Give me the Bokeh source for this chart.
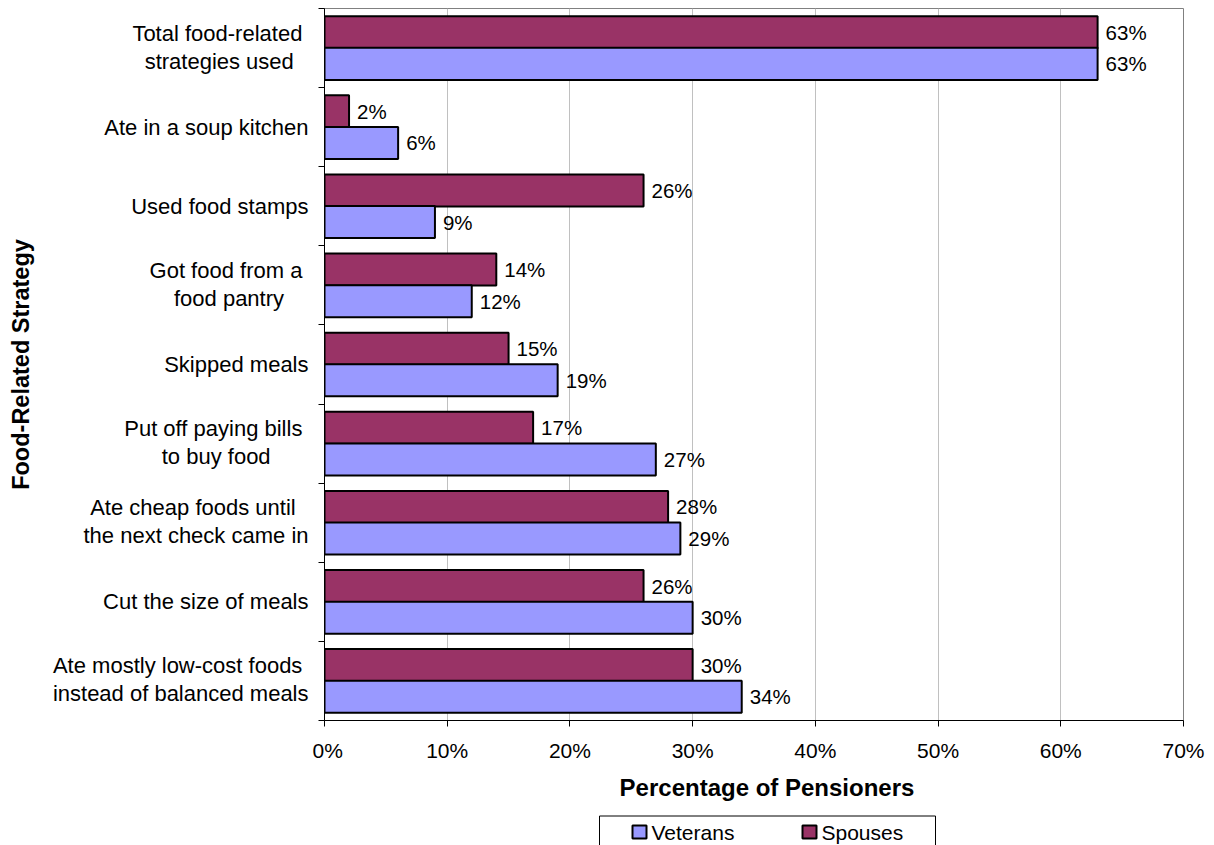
import math
from bokeh.plotting import figure
from bokeh.models import ColumnDataSource, FixedTicker, Range1d
from bokeh.layouts import column, row
from bokeh.core.properties import value
from bokeh.embed import file_html
from bokeh.resources import INLINE

categories = [
    "Total food-related\nstrategies used",
    "Ate in a soup kitchen",
    "Used food stamps",
    "Got food from a\nfood pantry",
    "Skipped meals",
    "Put off paying bills\nto buy food",
    "Ate cheap foods until\nthe next check came in",
    "Cut the size of meals",
    "Ate mostly low-cost foods\ninstead of balanced meals",
]
spouses = [63, 2, 26, 14, 15, 17, 28, 26, 30]
veterans = [63, 6, 9, 12, 19, 27, 29, 30, 34]
x_ticks = [0, 10, 20, 30, 40, 50, 60, 70]
series_names = ["Veterans", "Spouses"]
series_colors = ["#9999FF", "#993366"]
x_title = "Percentage of Pensioners"
y_title = "Food-Related Strategy"

FONT = "Liberation Sans"
n = len(categories)
centers = [n - i - 0.5 for i in range(n)]

# Arial / Liberation Sans advance widths (per 1000 em), used to centre wrapped labels
_W = {' ': 278, '-': 333, '%': 889}
_W.update({c: 556 for c in "0123456789"})
_W.update(dict(zip("ABCDEFGHIJKLMNOPQRSTUVWXYZ",
                   [667, 667, 722, 722, 667, 611, 778, 722, 278, 500, 667, 556, 833,
                    722, 778, 667, 778, 722, 667, 611, 722, 667, 944, 667, 667, 611])))
_W.update(dict(zip("abcdefghijklmnopqrstuvwxyz",
                   [556, 556, 500, 556, 556, 278, 556, 556, 222, 222, 500, 222, 833,
                    556, 556, 556, 556, 333, 500, 278, 556, 500, 722, 500, 500, 500])))


def text_width(s, size):
    return sum(_W.get(ch, 556) for ch in s) * size / 1000.0


TOP_B = 8
MAIN_H = 770
FRAME_BOTTOM = 720
LEFT_W = 312
LABEL_SIZE = 22
LABEL_RIGHT = 308
LINE_GAP = 28

# ---------------- left panel: category labels + y title ----------------
left = figure(width=LEFT_W, height=MAIN_H, output_backend="svg", toolbar_location=None,
              x_range=Range1d(0, LEFT_W), y_range=Range1d(0, n),
              min_border_left=0, min_border_right=0, min_border_top=TOP_B,
              min_border_bottom=MAIN_H - FRAME_BOTTOM, x_axis_location=None,
              y_axis_location=None, outline_line_color=None)
left.grid.visible = False

lx, ly, loff, ltxt = [], [], [], []
for cat, cy in zip(categories, centers):
    lines = cat.split("\n")
    # wrapped lines keep their trailing space (as in the original chart)
    full = [l + " " if k < len(lines) - 1 else l for k, l in enumerate(lines)]
    widths = [text_width(f, LABEL_SIZE) for f in full]
    cx = LABEL_RIGHT - max(widths) / 2
    for k, (l, f, w) in enumerate(zip(lines, full, widths)):
        trail = text_width(f, LABEL_SIZE) - text_width(l, LABEL_SIZE)
        lx.append(cx + w / 2 - trail)
        ly.append(cy)
        loff.append((k - (len(lines) - 1) / 2) * LINE_GAP - (1 if len(lines) > 1 else 0))
        ltxt.append(l)
left.text(x=lx, y=ly, y_offset=loff, text=ltxt, text_align="right",
          text_baseline="middle", text_font=value(FONT),
          text_font_size=f"{LABEL_SIZE}px", text_color="black")
left.text(x=[20], y=[n / 2], text=[y_title], angle=math.pi / 2,
          text_align="center", text_baseline="middle", text_font=value(FONT),
          text_font_style="bold", text_font_size="23.5px", text_color="black")

# ---------------- main chart ----------------
p = figure(width=1214 - LEFT_W, height=MAIN_H, output_backend="svg", toolbar_location=None,
           x_range=Range1d(0, 70), y_range=Range1d(0, n),
           min_border_left=324 - LEFT_W, min_border_right=31, min_border_top=TOP_B,
           min_border_bottom=MAIN_H - FRAME_BOTTOM)

src_s = ColumnDataSource(dict(y=[c + 0.2 for c in centers], v=spouses,
                              lab=[f"{v}%" for v in spouses]))
src_v = ColumnDataSource(dict(y=[c - 0.2 for c in centers], v=veterans,
                              lab=[f"{v}%" for v in veterans]))

p.hbar(y="y", right="v", left=0, height=0.405, source=src_s,
       fill_color=series_colors[1], line_color="black", line_width=2)
p.hbar(y="y", right="v", left=0, height=0.405, source=src_v,
       fill_color=series_colors[0], line_color="black", line_width=2)

for src in (src_s, src_v):
    p.text(x="v", y="y", text="lab", source=src, x_offset=8,
           text_baseline="middle", text_align="left",
           text_font=value(FONT), text_font_size="20.5px", text_color="black")

p.xaxis.ticker = FixedTicker(ticks=x_ticks)
p.xaxis.major_label_overrides = {t: f"{t}%" for t in x_ticks}
p.xaxis.major_tick_in = 0
p.xaxis.major_tick_out = 6
p.xaxis.minor_tick_out = 0
p.xaxis.minor_tick_in = 0
p.xaxis.axis_line_color = "black"
p.xaxis.major_tick_line_color = "black"
p.xaxis.major_label_text_font = FONT
p.xaxis.major_label_text_font_size = "21px"
p.xaxis.major_label_text_color = "black"
p.xaxis.major_label_standoff = 12

p.yaxis.ticker = FixedTicker(ticks=list(range(n + 1)))
p.yaxis.major_label_overrides = {i: "" for i in range(n + 1)}
p.yaxis.major_label_text_font_size = "1px"
p.yaxis.major_label_standoff = 0
p.yaxis.major_tick_in = 0
p.yaxis.major_tick_out = 6
p.yaxis.minor_tick_in = 0
p.yaxis.minor_tick_out = 0
p.yaxis.major_tick_line_color = "black"
p.yaxis.axis_line_color = "black"

p.ygrid.grid_line_color = None
p.xgrid.ticker = FixedTicker(ticks=x_ticks)
p.xgrid.grid_line_color = "#c0c0c0"
p.xgrid.grid_line_width = 1
p.outline_line_color = "#808080"

# ---------------- bottom strip: x title + legend ----------------
STRIP_H = 845 - MAIN_H
strip = figure(width=1214, height=STRIP_H, output_backend="svg", toolbar_location=None,
               x_range=Range1d(0, 1214), y_range=Range1d(STRIP_H, 0),
               min_border=0, x_axis_location=None, y_axis_location=None,
               outline_line_color=None)
strip.grid.visible = False
strip.text(x=[766.5], y=[16.5], text=[x_title], text_align="center",
           text_baseline="middle", text_font=value(FONT), text_font_style="bold",
           text_font_size="24px", text_color="black")
box_top = 45
strip.quad(left=[599], right=[935], top=[box_top + 0.5], bottom=[STRIP_H + 6],
           fill_color=None, line_color="black", line_width=1)
sw_x = [632, 802]
strip.quad(left=sw_x, right=[x + 14 for x in sw_x], top=[box_top + 10] * 2,
           bottom=[box_top + 23] * 2, fill_color=series_colors,
           line_color="black", line_width=2)
strip.text(x=[x + 19 for x in sw_x], y=[box_top + 16.5] * 2, text=series_names,
           text_align="left", text_baseline="middle", text_font=value(FONT),
           text_font_size="21px", text_color="black")

layout = column(row(left, p), strip)
open("out.html", "w").write(file_html(layout, INLINE))
